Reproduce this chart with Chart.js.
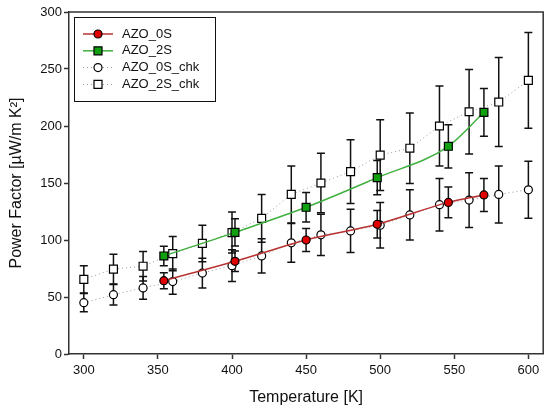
<!DOCTYPE html>
<html>
<head>
<meta charset="utf-8">
<script src="https://cdn.jsdelivr.net/npm/chart.js@4"></script>
<style>
  html, body { margin: 0; padding: 0; background: #fff; }
</style>
</head>
<body>
<canvas id="chart" width="550" height="416"></canvas>
<script>
// temperatures of the reference runs (K)
const tempChk = [300, 320, 340, 360, 380, 400, 420, 440, 460, 480, 500, 520, 540, 560, 580, 600];
const pf0Chk = [45, 52, 58, 63.5, 71, 77.5, 86, 97.5, 104.5, 108, 113, 122, 131, 135, 140, 144];
const err0Chk = [8, 9, 10, 11, 13, 14, 15, 17, 18, 19, 20, 22, 23, 24, 25, 25];
const pf2Chk = [65.5, 74.5, 77, 88, 97, 106.5, 119, 140, 150, 160, 174.5, 180.5, 200, 212.5, 221, 240];
const err2Chk = [12, 13, 13, 15, 16, 18, 21, 25, 26, 28, 31, 31, 35, 37, 39, 42];

// measured samples
const tempS = [354, 402, 450, 498, 546, 570];
const pf0S = [64.3, 81.3, 100, 113.8, 133, 139.5];
const err0S = [7, 9, 10, 12, 13.5, 14.5];
const pf2S = [86, 106.7, 128.7, 154.7, 182.2, 212];
const err2S = [8.5, 12, 13, 15, 19, 21];

const xTicks = [300, 350, 400, 450, 500, 550, 600];
const yTicks = [0, 50, 100, 150, 200, 250, 300];

const FONT = "'Liberation Sans', Arial, sans-serif";

function pts(xs, ys) {
    return xs.map((x, i) => ({ x: x, y: ys[i] }));
}

const errorBars = {
    id: 'errorBars',
    beforeDatasetsDraw(chart) {
        const { ctx, scales: { x, y } } = chart;
        ctx.save();
        ctx.strokeStyle = '#111';
        ctx.lineWidth = 1.5;
        chart.data.datasets.forEach(ds => {
            ds.data.forEach((p, i) => {
                const px = x.getPixelForValue(p.x);
                const top = y.getPixelForValue(p.y + ds.errors[i]);
                const bot = y.getPixelForValue(p.y - ds.errors[i]);
                ctx.beginPath();
                ctx.moveTo(px, top); ctx.lineTo(px, bot);
                ctx.moveTo(px - 4, top); ctx.lineTo(px + 4, top);
                ctx.moveTo(px - 4, bot); ctx.lineTo(px + 4, bot);
                ctx.stroke();
            });
        });
        ctx.restore();
    }
};

const frame = {
    id: 'frame',
    afterDraw(chart) {
        const { ctx, chartArea: a } = chart;
        ctx.save();
        ctx.strokeStyle = '#333';
        ctx.lineWidth = 1.5;
        ctx.beginPath();
        ctx.moveTo(a.left, a.top); ctx.lineTo(a.right, a.top); ctx.lineTo(a.right, a.bottom);
        ctx.stroke();

        // legend box
        const lx = 74, ly = 17, lw = 141, lh = 84;
        ctx.fillStyle = '#fff';
        ctx.fillRect(lx, ly, lw, lh);
        ctx.strokeStyle = '#111';
        ctx.lineWidth = 1;
        ctx.strokeRect(lx + 0.5, ly + 0.5, lw, lh);
        chart.data.datasets.forEach((ds, i) => {
            const yy = 34 + i * 16.8;
            ctx.save();
            ctx.strokeStyle = ds.borderColor;
            ctx.lineWidth = ds.borderWidth;
            ctx.setLineDash(ds.borderDash || []);
            ctx.beginPath();
            ctx.moveTo(83, yy); ctx.lineTo(113, yy);
            ctx.stroke();
            ctx.restore();
            ctx.fillStyle = ds.pointBackgroundColor;
            ctx.strokeStyle = '#000';
            ctx.lineWidth = 1.2;
            ctx.beginPath();
            if (ds.pointStyle === 'rect') {
                ctx.rect(98 - 4, yy - 4, 8, 8);
            } else {
                ctx.arc(98, yy, 4, 0, Math.PI * 2);
            }
            ctx.fill();
            ctx.stroke();
            ctx.fillStyle = '#111';
            ctx.font = '13px ' + FONT;
            ctx.textBaseline = 'middle';
            ctx.textAlign = 'left';
            ctx.fillText(ds.label, 122, yy);
        });
        ctx.restore();
    }
};

new Chart(document.getElementById('chart'), {
    type: 'scatter',
    data: {
        datasets: [
            {
                label: 'AZO_0S',
                data: pts(tempS, pf0S),
                errors: err0S,
                showLine: true,
                cubicInterpolationMode: 'monotone',
                borderColor: '#b83232',
                borderWidth: 1.5,
                pointStyle: 'circle',
                pointRadius: 4,
                pointBackgroundColor: '#e00000',
                pointBorderColor: '#000',
                pointBorderWidth: 1.2
            },
            {
                label: 'AZO_2S',
                data: pts(tempS, pf2S),
                errors: err2S,
                showLine: true,
                cubicInterpolationMode: 'monotone',
                borderColor: '#40b040',
                borderWidth: 1.5,
                pointStyle: 'rect',
                pointRadius: 5.6,
                pointBackgroundColor: '#10a010',
                pointBorderColor: '#000',
                pointBorderWidth: 1.2
            },
            {
                label: 'AZO_0S_chk',
                data: pts(tempChk, pf0Chk),
                errors: err0Chk,
                showLine: true,
                borderColor: '#999',
                borderWidth: 1,
                borderDash: [1, 3],
                pointStyle: 'circle',
                pointRadius: 4,
                pointBackgroundColor: '#fff',
                pointBorderColor: '#000',
                pointBorderWidth: 1.2
            },
            {
                label: 'AZO_2S_chk',
                data: pts(tempChk, pf2Chk),
                errors: err2Chk,
                showLine: true,
                borderColor: '#999',
                borderWidth: 1,
                borderDash: [1, 3],
                pointStyle: 'rect',
                pointRadius: 5.6,
                pointBackgroundColor: '#fff',
                pointBorderColor: '#000',
                pointBorderWidth: 1.2
            }
        ]
    },
    options: {
        responsive: false,
        animation: false,
        layout: { padding: { top: 12, right: 5, left: 0, bottom: 0 } },
        plugins: {
            legend: { display: false },
            tooltip: { enabled: false }
        },
        scales: {
            x: {
                type: 'linear',
                min: 290,
                max: 610,
                afterFit: s => { s.height = 62; },
                afterBuildTicks: s => { s.ticks = xTicks.map(v => ({ value: v })); },
                grid: { drawOnChartArea: false, tickLength: 5, tickColor: '#333', tickWidth: 1.5 },
                border: { color: '#333', width: 1.5 },
                ticks: { color: '#111', font: { family: FONT, size: 13 }, padding: 4 },
                title: {
                    display: true,
                    text: 'Temperature [K]',
                    color: '#111',
                    font: { family: FONT, size: 16 },
                    padding: { top: 0, bottom: 9 }
                }
            },
            y: {
                min: 0,
                max: 300,
                afterFit: s => { s.width = 69; },
                afterBuildTicks: s => { s.ticks = yTicks.map(v => ({ value: v })); },
                grid: { drawOnChartArea: false, tickLength: 5, tickColor: '#333', tickWidth: 1.5 },
                border: { color: '#333', width: 1.5 },
                ticks: { color: '#111', font: { family: FONT, size: 13 }, padding: 2 },
                title: {
                    display: true,
                    text: 'Power Factor [µW/m K²]',
                    color: '#111',
                    font: { family: FONT, size: 16 },
                    padding: { top: 7, bottom: 0 }
                }
            }
        }
    },
    plugins: [errorBars, frame]
});
</script>
</body>
</html>
